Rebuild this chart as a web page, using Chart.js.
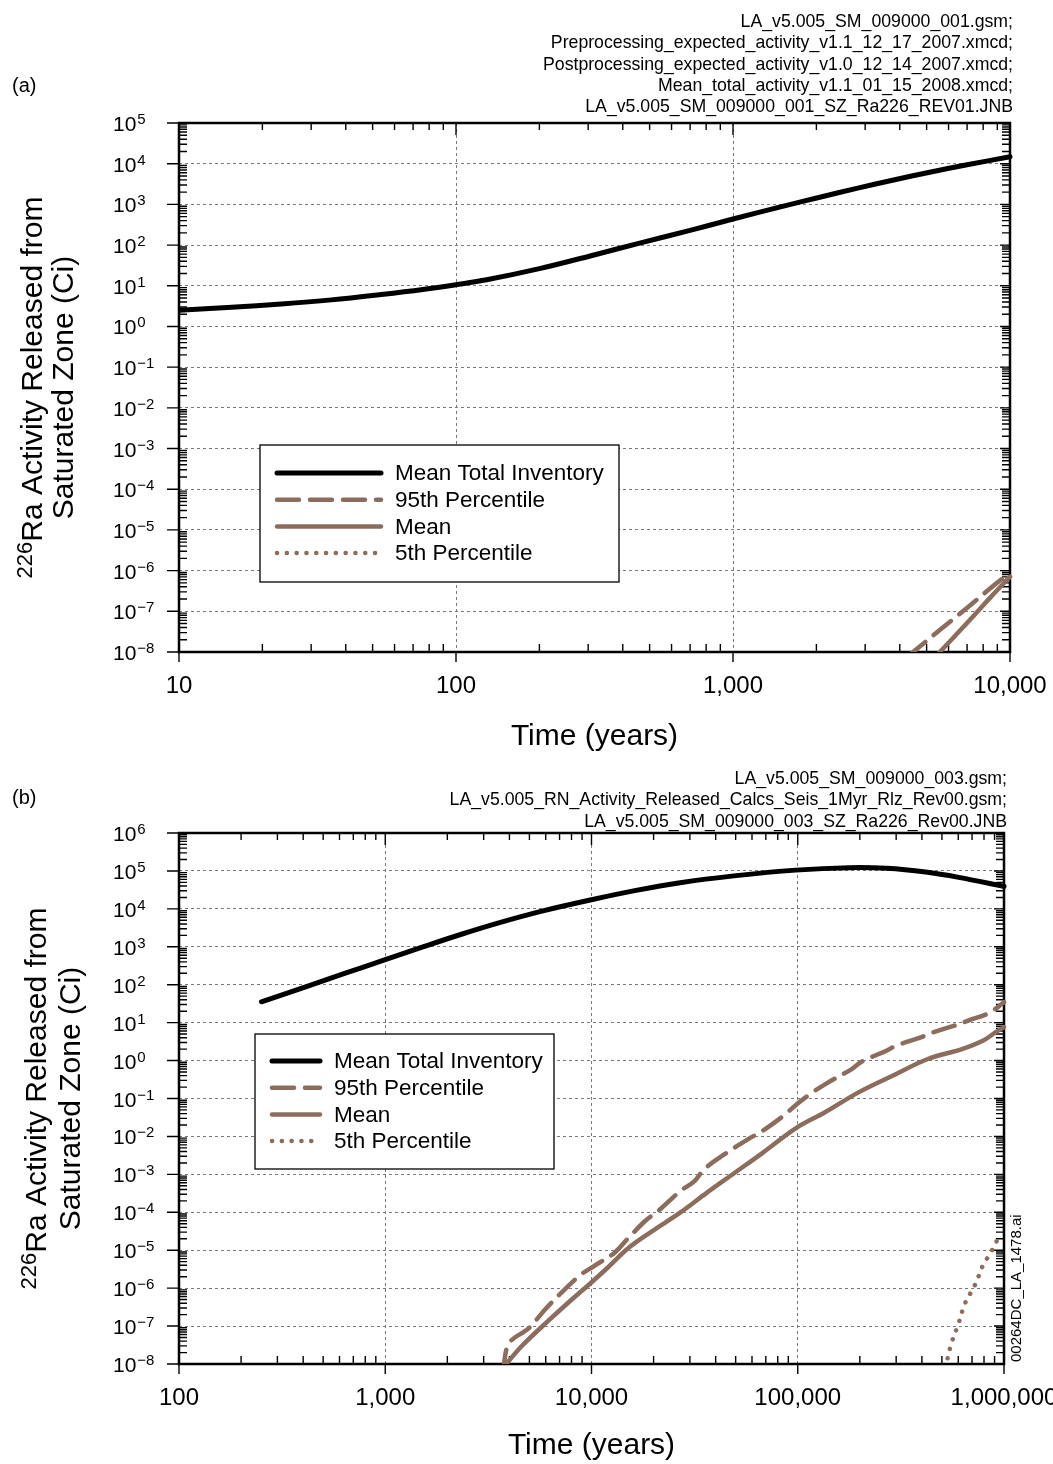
<!DOCTYPE html>
<html>
<head>
<meta charset="utf-8">
<script src="https://cdn.jsdelivr.net/npm/chart.js@4.4.1/dist/chart.umd.min.js"></script>
<style>
  body { margin: 0; background: #fff; }
  #wrap-a { position: absolute; left: 0; top: 0; width: 1053px; height: 760px; }
  #wrap-b { position: absolute; left: 0; top: 760px; width: 1053px; height: 704px; }
</style>
</head>
<body>
<div id="wrap-a"><canvas id="chart-a"></canvas></div>
<div id="wrap-b"><canvas id="chart-b"></canvas></div>
<script>
// (a) first 10,000 years
var topTotalYears = [10, 15.5, 23.4, 35.5, 53.7, 75.9, 100, 129, 200, 305, 468, 700, 1000, 1510, 2040, 2820, 3800, 5130, 7080, 10000];
var topTotalCi = [2.5, 2.95, 3.55, 4.5, 6.1, 8.1, 10.6, 14, 26.3, 54, 115, 229, 437, 891, 1480, 2510, 3980, 6170, 9550, 14800];
var topP95Years = [4300, 4470, 5620, 7080, 8910, 10000];
var topP95Ci = [7.9e-9, 1e-8, 3.6e-8, 1.3e-7, 4.8e-7, 8.9e-7];
var topMeanYears = [5400, 5580, 7080, 8500, 10000];
var topMeanCi = [7.8e-9, 1e-8, 5.6e-8, 2.2e-7, 7.1e-7];
var topP05Years = [];
var topP05Ci = [];

// (b) 1,000,000 years
var botTotalYears = [251, 398, 646, 1000, 1510, 2340, 3550, 5750, 10000, 16200, 26900, 49000, 97700, 178000, 269000, 417000, 603000, 1000000];
var botTotalCi = [35.5, 83, 204, 457, 977, 2140, 4270, 8710, 17400, 30200, 49000, 74100, 105000, 122000, 117000, 93300, 67600, 38900];
var botP95Years = [3720, 3980, 4950, 6030, 7000, 8810, 10200, 12900, 15100, 18200, 21400, 26900, 31600, 35100, 44200, 57500, 67600, 85100, 98900, 115000, 140000, 182000, 204000, 269000, 302000, 398000, 457000, 575000, 676000, 851000, 1000000];
var botP95Ci = [6.3e-9, 3.5e-8, 8.7e-8, 2.95e-7, 6.8e-7, 2.2e-6, 3.7e-6, 8.5e-6, 2.1e-5, 5.9e-5, 1.17e-4, 3.6e-4, 6.6e-4, 1.35e-3, 3.4e-3, 8.5e-3, 0.0141, 0.0347, 0.0708, 0.132, 0.263, 0.589, 0.933, 1.82, 2.51, 4.17, 5.62, 8.32, 11.5, 18.2, 34.7];
var botMeanYears = [3720, 4570, 6240, 7850, 9890, 12000, 15100, 19700, 26900, 36300, 49500, 67600, 98900, 135000, 197000, 288000, 427000, 631000, 794000, 912000, 1000000];
var botMeanCi = [7.9e-9, 2.9e-8, 1.45e-7, 4.5e-7, 1.35e-6, 3.5e-6, 1.15e-5, 3.2e-5, 9.8e-5, 3.3e-4, 1.1e-3, 3.7e-3, 0.017, 0.0427, 0.145, 0.398, 1.1, 2.04, 3.39, 5.62, 7.6];
var botP05Years = [519000, 556000, 603000, 646000, 724000, 794000, 851000, 912000, 955000];
var botP05Ci = [7.9e-9, 3.5e-8, 1.2e-7, 3.9e-7, 1.23e-6, 4.2e-6, 7.6e-6, 1.55e-5, 2.6e-5];

// assi
var topXTicks = [10, 100, 1000, 10000];
var topXLabels = ['10', '100', '1,000', '10,000'];
var topYTicks = [1e-8, 1e-7, 1e-6, 1e-5, 1e-4, 1e-3, 1e-2, 1e-1, 1e0, 1e1, 1e2, 1e3, 1e4, 1e5];
var topYExps = ['\u22128', '\u22127', '\u22126', '\u22125', '\u22124', '\u22123', '\u22122', '\u22121', '0', '1', '2', '3', '4', '5'];
var botXTicks = [100, 1000, 10000, 100000, 1000000];
var botXLabels = ['100', '1,000', '10,000', '100,000', '1,000,000'];
var botYTicks = [1e-8, 1e-7, 1e-6, 1e-5, 1e-4, 1e-3, 1e-2, 1e-1, 1e0, 1e1, 1e2, 1e3, 1e4, 1e5, 1e6];
var botYExps = ['\u22128', '\u22127', '\u22126', '\u22125', '\u22124', '\u22123', '\u22122', '\u22121', '0', '1', '2', '3', '4', '5', '6'];

var seriesNames = ['Mean Total Inventory', '95th Percentile', 'Mean', '5th Percentile'];
var topNotes = ['LA_v5.005_SM_009000_001.gsm;', 'Preprocessing_expected_activity_v1.1_12_17_2007.xmcd;', 'Postprocessing_expected_activity_v1.0_12_14_2007.xmcd;', 'Mean_total_activity_v1.1_01_15_2008.xmcd;', 'LA_v5.005_SM_009000_001_SZ_Ra226_REV01.JNB'];
var botNotes = ['LA_v5.005_SM_009000_003.gsm;', 'LA_v5.005_RN_Activity_Released_Calcs_Seis_1Myr_Rlz_Rev00.gsm;', 'LA_v5.005_SM_009000_003_SZ_Ra226_Rev00.JNB'];

var FONT = "'Liberation Sans', Arial, sans-serif";
var BROWN = '#8c6d5d';

function pts(xs, ys) {
    var out = [];
    for (var i = 0; i < xs.length; i++) out.push({ x: xs[i], y: ys[i] });
    return out;
}

function serie(label, data, color, width, dash) {
    return {
        label: label, data: data, borderColor: color, borderWidth: width, borderDash: dash,
        borderCapStyle: 'round', pointRadius: 0, fill: false, tension: 0.35,
        clip: { left: 0, top: 0, right: 3, bottom: 0 }
    };
}

function minors(min, max) {
    var out = [];
    for (var e = Math.round(Math.log10(min)); e < Math.round(Math.log10(max)); e++) {
        for (var k = 2; k < 10; k++) out.push(k * Math.pow(10, e));
    }
    return out;
}

// cornice e tacche
var framePlugin = {
    id: 'frame',
    beforeDatasetsDraw: function (chart) {
        var a = chart.chartArea, ctx = chart.ctx;
        var xs = chart.scales.x, ys = chart.scales.y;
        ctx.save();
        ctx.strokeStyle = '#000';
        ctx.lineWidth = 1.4;
        ctx.beginPath();
        xs.ticks.forEach(function (t) {
            var px = xs.getPixelForValue(t.value);
            ctx.moveTo(px, a.bottom); ctx.lineTo(px, a.bottom + 10);
            ctx.moveTo(px, a.top); ctx.lineTo(px, a.top + 12);
        });
        minors(xs.min, xs.max).forEach(function (v) {
            var px = xs.getPixelForValue(v);
            ctx.moveTo(px, a.bottom); ctx.lineTo(px, a.bottom - 8);
            ctx.moveTo(px, a.top); ctx.lineTo(px, a.top + 7);
        });
        ys.ticks.forEach(function (t) {
            var py = ys.getPixelForValue(t.value);
            ctx.moveTo(a.left - 12, py); ctx.lineTo(a.left, py);
            ctx.moveTo(a.right - 10, py); ctx.lineTo(a.right, py);
        });
        minors(ys.min, ys.max).forEach(function (v) {
            var py = ys.getPixelForValue(v);
            ctx.moveTo(a.left, py); ctx.lineTo(a.left + 8, py);
            ctx.moveTo(a.right - 8, py); ctx.lineTo(a.right, py);
        });
        ctx.stroke();
        ctx.lineWidth = 2.5;
        ctx.strokeRect(a.left, a.top, a.right - a.left, a.bottom - a.top);
        ctx.restore();
    }
};

// legenda, etichette, titoli
var extrasPlugin = {
    id: 'extras',
    afterDatasetsDraw: function (chart, args, o) {
        var ctx = chart.ctx, a = chart.chartArea, ys = chart.scales.y;
        ctx.save();

        // etichette asse y con esponente
        ctx.fillStyle = '#000';
        ctx.textAlign = 'left';
        ctx.textBaseline = 'alphabetic';
        for (var i = 0; i < o.yTicks.length; i++) {
            var py = ys.getPixelForValue(o.yTicks[i]);
            ctx.font = '21px ' + FONT;
            ctx.fillText('10', 113, py + 8);
            var w = ctx.measureText('10').width;
            ctx.font = '15px ' + FONT;
            ctx.fillText(o.yExps[i], 113 + w + 1, py + 1);
        }

        // legenda
        var L = o.legend;
        ctx.fillStyle = '#fff';
        ctx.fillRect(L.x, L.y, L.w, L.h);
        ctx.strokeStyle = '#000';
        ctx.lineWidth = 1.3;
        ctx.strokeRect(L.x, L.y, L.w, L.h);
        chart.data.datasets.forEach(function (ds, k) {
            var ly = L.y0 + k * L.dy;
            ctx.beginPath();
            ctx.strokeStyle = ds.borderColor;
            ctx.lineWidth = ds.borderWidth;
            ctx.lineCap = 'round';
            ctx.setLineDash(ds.borderDash);
            ctx.moveTo(L.lx0, ly);
            ctx.lineTo(L.lx1, ly);
            ctx.stroke();
            ctx.setLineDash([]);
            ctx.fillStyle = '#000';
            ctx.font = '22.5px ' + FONT;
            ctx.textBaseline = 'middle';
            ctx.fillText(ds.label, L.tx, ly + 1);
        });

        // note in alto a destra
        ctx.textBaseline = 'alphabetic';
        ctx.textAlign = 'right';
        ctx.font = '17.7px ' + FONT;
        o.notes.forEach(function (s, k) {
            ctx.fillText(s, o.notesX, o.notesY + k * 21.3);
        });

        // (a) / (b)
        ctx.textAlign = 'left';
        ctx.font = '20px ' + FONT;
        ctx.fillText(o.panel, 12, o.panelY);

        // titolo asse y su due righe
        var cy = (a.top + a.bottom) / 2;
        ctx.save();
        ctx.translate(o.title1X, cy);
        ctx.rotate(-Math.PI / 2);
        ctx.font = '22px ' + FONT;
        var ws = ctx.measureText('226').width;
        ctx.font = '30px ' + FONT;
        var wm = ctx.measureText('Ra Activity Released from').width;
        var x0 = -(ws + wm) / 2;
        ctx.font = '22px ' + FONT;
        ctx.fillText('226', x0, -10);
        ctx.font = '30px ' + FONT;
        ctx.fillText('Ra Activity Released from', x0 + ws, 0);
        ctx.restore();
        ctx.save();
        ctx.translate(o.title2X, cy);
        ctx.rotate(-Math.PI / 2);
        ctx.textAlign = 'center';
        ctx.font = '30px ' + FONT;
        ctx.fillText('Saturated Zone (Ci)', 0, 0);
        ctx.restore();

        if (o.tag) {
            ctx.save();
            ctx.translate(o.tag.x, o.tag.y);
            ctx.rotate(-Math.PI / 2);
            ctx.font = '15px ' + FONT;
            ctx.textAlign = 'left';
            ctx.fillText(o.tag.text, 0, 0);
            ctx.restore();
        }
        ctx.restore();
    }
};

function makeChart(id, o) {
    return new Chart(document.getElementById(id), {
        type: 'line',
        data: {
            datasets: [
                serie(seriesNames[0], pts(o.total[0], o.total[1]), '#000', 5, []),
                serie(seriesNames[1], pts(o.p95[0], o.p95[1]), BROWN, 4.5, [22, 11]),
                serie(seriesNames[2], pts(o.mean[0], o.mean[1]), BROWN, 4.5, []),
                serie(seriesNames[3], pts(o.p05[0], o.p05[1]), BROWN, 4.5, [0.1, 9.7])
            ]
        },
        options: {
            responsive: true,
            maintainAspectRatio: false,
            animation: false,
            layout: { padding: { top: o.padTop, right: o.padRight, left: 0, bottom: 0 } },
            plugins: {
                legend: { display: false },
                tooltip: { enabled: false },
                extras: o.extras
            },
            scales: {
                x: {
                    type: 'logarithmic',
                    min: o.xTicks[0],
                    max: o.xTicks[o.xTicks.length - 1],
                    afterBuildTicks: function (s) {
                        s.ticks = o.xTicks.map(function (v) { return { value: v }; });
                    },
                    afterFit: function (s) {
                        s.height = o.xHeight;
                        s.paddingLeft = 0;
                        s.paddingRight = 0;
                    },
                    grid: { color: '#7a7a7a', lineWidth: 1, drawTicks: false },
                    border: { display: false, dash: [3, 3] },
                    ticks: {
                        autoSkip: false, maxRotation: 0, padding: 20, color: '#000',
                        font: { family: FONT, size: 24 },
                        callback: function (v, i) { return o.xLabels[i]; }
                    },
                    title: {
                        display: true, text: 'Time (years)', color: '#000',
                        font: { family: FONT, size: 30 },
                        padding: { top: 0, bottom: o.titlePad }
                    }
                },
                y: {
                    type: 'logarithmic',
                    min: o.yTicks[0],
                    max: o.yTicks[o.yTicks.length - 1],
                    afterBuildTicks: function (s) {
                        s.ticks = o.yTicks.map(function (v) { return { value: v }; });
                    },
                    afterFit: function (s) { s.width = 179; },
                    grid: { color: '#7a7a7a', lineWidth: 1, drawTicks: false },
                    border: { display: false, dash: [3, 3] },
                    ticks: { display: false }
                }
            }
        },
        plugins: [framePlugin, extrasPlugin]
    });
}

makeChart('chart-a', {
    total: [topTotalYears, topTotalCi], p95: [topP95Years, topP95Ci],
    mean: [topMeanYears, topMeanCi], p05: [topP05Years, topP05Ci],
    xTicks: topXTicks, xLabels: topXLabels, yTicks: topYTicks,
    padTop: 123, padRight: 43, xHeight: 108, titlePad: 5,
    extras: {
        yTicks: topYTicks, yExps: topYExps,
        legend: { x: 260, y: 445, w: 359, h: 137, y0: 473, dy: 26.7, lx0: 277, lx1: 381, tx: 395 },
        notes: topNotes, notesX: 1013, notesY: 27,
        panel: '(a)', panelY: 92,
        title1X: 42, title2X: 73
    }
});

makeChart('chart-b', {
    total: [botTotalYears, botTotalCi], p95: [botP95Years, botP95Ci],
    mean: [botMeanYears, botMeanCi], p05: [botP05Years, botP05Ci],
    xTicks: botXTicks, xLabels: botXLabels, yTicks: botYTicks,
    padTop: 73, padRight: 49, xHeight: 100, titlePad: 0,
    extras: {
        yTicks: botYTicks, yExps: botYExps,
        legend: { x: 255, y: 274, w: 299, h: 135, y0: 301, dy: 26.7, lx0: 272, lx1: 320, tx: 334 },
        notes: botNotes, notesX: 1007, notesY: 24,
        panel: '(b)', panelY: 44,
        title1X: 46, title2X: 80,
        tag: { text: '00264DC_LA_1478.ai', x: 1021, y: 602 }
    }
});
</script>
</body>
</html>
